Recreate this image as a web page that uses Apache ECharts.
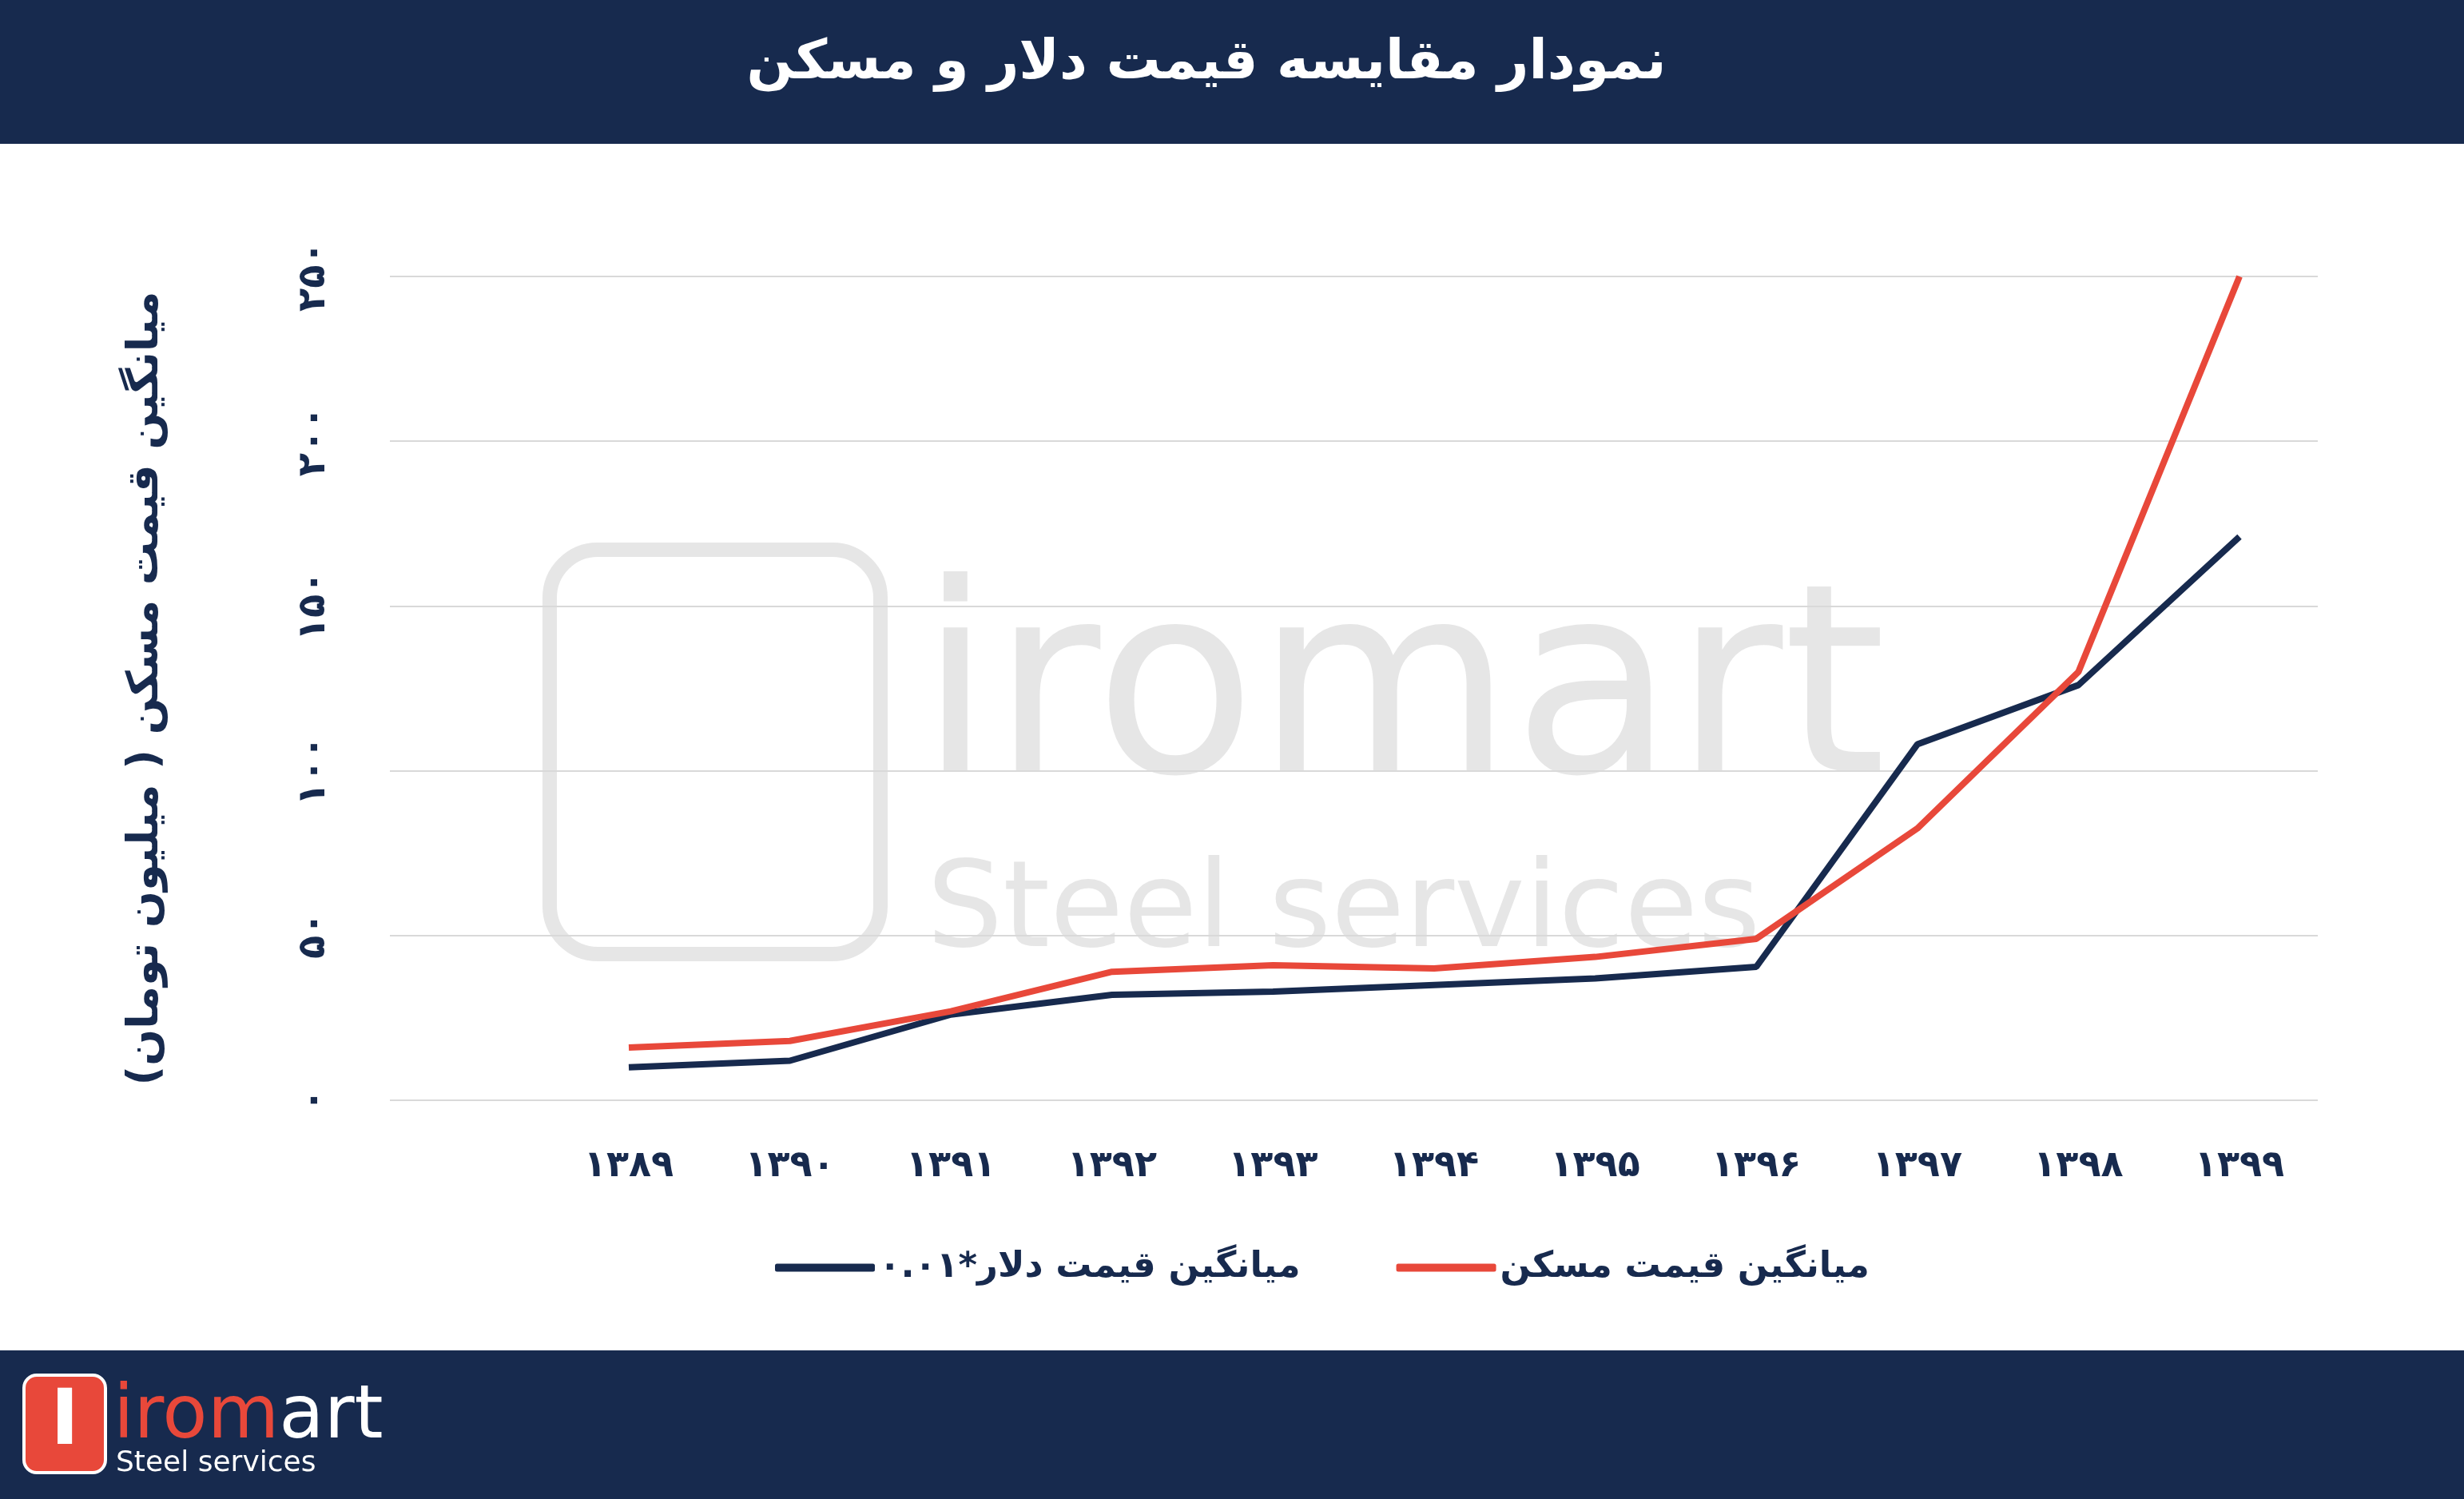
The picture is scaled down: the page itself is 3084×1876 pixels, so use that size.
<!DOCTYPE html>
<html><head><meta charset="utf-8">
<script src="https://cdn.jsdelivr.net/npm/echarts@6/dist/echarts.min.js"></script>
<style>html,body{margin:0;padding:0;background:#fff}#c{width:3084px;height:1876px}</style>
</head><body><div id="c"></div>
<script>
var years = ['1389','1390','1391','1392','1393','1394','1395','1396','1397','1398','1399'];
var dollar = [10, 12, 26, 32, 33, 35, 37, 40.5, 108, 126, 171];
var housing = [16, 18, 27, 39, 41, 40, 43.5, 49, 82.5, 130, 250];
var yTicks = [0, 50, 100, 150, 200, 250];

var NAVY = '#172a4e', RED = '#e8483a';
var FONT = '"DejaVu Sans", "Noto Sans", sans-serif';
function fa(s) { return String(s).replace(/[0-9]/g, function (d) { return '۰۱۲۳۴۵۶۷۸۹'[d]; }); }

var chart = echarts.init(document.getElementById('c'));
chart.setOption({
    backgroundColor: '#fff',
    textStyle: { fontFamily: FONT },
    graphic: [
        { type: 'rect', shape: { x: 0, y: 0, width: 3084, height: 180 }, style: { fill: NAVY } },
        { type: 'text', x: 1510, y: 80, style: { text: 'نمودار مقایسه قیمت دلار و مسکن', fill: '#fff', font: 'bold 68px ' + FONT, align: 'center', verticalAlign: 'middle' } },
        { type: 'rect', shape: { x: 0, y: 1690, width: 3084, height: 186 }, style: { fill: NAVY } },
        { type: 'rect', shape: { x: 30, y: 1721, width: 102, height: 122, r: 16 }, style: { fill: RED, stroke: '#fff', lineWidth: 4 } },
        { type: 'text', x: 81, y: 1782, style: { text: 'I', fill: '#fff', font: 'bold 96px ' + FONT, align: 'center', verticalAlign: 'middle' } },
        { type: 'text', x: 142, y: 1775, style: { rich: { a: { fill: RED, font: '92px ' + FONT }, b: { fill: '#fff', font: '92px ' + FONT } }, text: '{a|irom}{b|art}', verticalAlign: 'middle' } },
        { type: 'text', x: 145, y: 1832, style: { text: 'Steel services', fill: '#fff', font: '36px ' + FONT, verticalAlign: 'middle' } },
        // watermark
        { type: 'rect', z: -1, shape: { x: 688, y: 688, width: 414, height: 506, r: 60 }, style: { fill: 'none', stroke: '#e6e6e6', lineWidth: 18 } },
        { type: 'text', z: -1, x: 1150, y: 880, style: { text: 'iromart', fill: '#e6e6e6', font: '330px ' + FONT, verticalAlign: 'middle' } },
        { type: 'text', z: -1, x: 1160, y: 1145, style: { text: 'Steel services', fill: '#e6e6e6', font: '150px ' + FONT, verticalAlign: 'middle' } }
    ],
    legend: {
        bottom: 262, left: 965, itemGap: 120, itemWidth: 125, itemHeight: 10,
        icon: 'roundRect',
        data: ['میانگین قیمت دلار*۰.۰۱', 'میانگین قیمت مسکن'],
        textStyle: { fontSize: 45, fontWeight: 'bold', color: NAVY, fontFamily: FONT }
    },
    grid: [
        { left: 787, right: 281, top: 346, bottom: 499 },
        { left: 488, right: 183, top: 346, bottom: 499 }
    ],
    xAxis: [
        {
            type: 'category', gridIndex: 0, data: years, boundaryGap: false,
            axisLine: { show: false }, axisTick: { show: false },
            axisLabel: { formatter: fa, fontSize: 46, fontWeight: 'bold', color: NAVY, margin: 60 }
        },
        { type: 'category', gridIndex: 1, data: ['a'], show: false }
    ],
    yAxis: [
        {
            type: 'value', gridIndex: 0, min: 0, max: 250, interval: 50,
            axisLabel: { show: false }, splitLine: { show: false },
            axisLine: { show: false }, axisTick: { show: false }
        },
        {
            type: 'value', gridIndex: 1, min: 0, max: 250, interval: 50,
            name: 'میانگین قیمت مسکن ( میلیون تومان)', nameLocation: 'middle', nameRotate: 90, nameGap: 278,
            nameTextStyle: { fontSize: 54, fontWeight: 'bold', color: NAVY, fontFamily: FONT },
            axisLine: { show: false }, axisTick: { show: false },
            splitLine: { lineStyle: { color: '#d9d9d9', width: 2 } },
            axisLabel: { formatter: function (v) { return fa(v); }, rotate: 90, fontSize: 48, fontWeight: 'bold', color: NAVY, margin: 70 }
        }
    ],
    series: [
        { name: 'میانگین قیمت دلار*۰.۰۱', type: 'line', data: dollar, symbol: 'none', color: NAVY, lineStyle: { width: 8, color: NAVY }, z: 3 },
        { name: 'میانگین قیمت مسکن', type: 'line', data: housing, symbol: 'none', color: RED, lineStyle: { width: 8, color: RED }, z: 4 }
    ]
});
</script></body></html>
